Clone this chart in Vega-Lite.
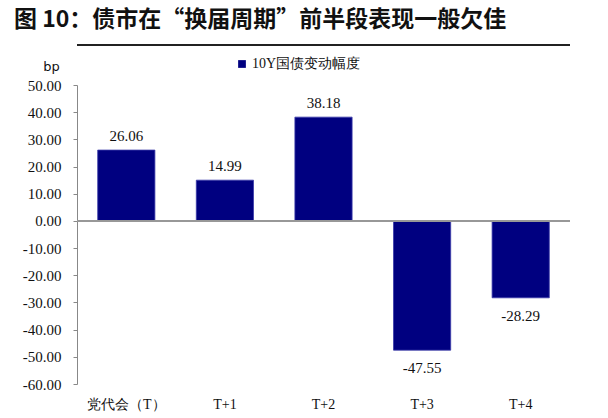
{
  "$schema": "https://vega.github.io/schema/vega-lite/v6.json",
  "autosize": {"type": "none"},
  "padding": {"left": 77, "top": 85, "right": 38, "bottom": 34},
  "width": 493,
  "height": 299,
  "background": "white",
  "title": {
    "text": "图 10：债市在“换届周期”前半段表现一般欠佳",
    "anchor": "start",
    "frame": "group",
    "dx": -63,
    "offset": 12,
    "font": "Noto Sans CJK SC",
    "fontSize": 23,
    "fontWeight": "bold",
    "color": "#111111"
  },
  "data": {
    "values": [
      {"period": "党代会（T）", "value": 26.06, "series": "10Y国债变动幅度"},
      {"period": "T+1", "value": 14.99, "series": "10Y国债变动幅度"},
      {"period": "T+2", "value": 38.18, "series": "10Y国债变动幅度"},
      {"period": "T+3", "value": -47.55, "series": "10Y国债变动幅度"},
      {"period": "T+4", "value": -28.29, "series": "10Y国债变动幅度"}
    ]
  },
  "config": {
    "view": {"stroke": null},
    "axis": {"labelFont": "Liberation Serif", "labelColor": "#111111"},
    "axisY": {
      "titleAngle": 0,
      "titleX": -26,
      "titleY": -12,
      "titleFont": "DejaVu Sans",
      "titleFontSize": 13,
      "titleFontWeight": "normal",
      "titleColor": "#111111",
      "tickCount": 11,
      "labelExpr": "replace(format(datum.value, '.2f'), '−', '-')",
      "labelOverlap": false,
      "grid": false,
      "domainColor": "#888888",
      "tickColor": "#888888",
      "tickSize": 4,
      "labelFont": "Liberation Serif",
      "labelFontSize": 15,
      "labelPadding": 12
    }
  },
  "encoding": {
    "x": {
      "field": "period",
      "type": "nominal",
      "sort": null,
      "scale": {"paddingInner": 0.42, "paddingOuter": 0.21},
      "axis": {
        "title": null,
        "domain": false,
        "ticks": false,
        "labelAngle": 0,
        "labelFontSize": 14,
        "labelPadding": 13,
        "labelFont": "Liberation Serif"
      }
    }
  },
  "layer": [
    {
      "mark": {"type": "bar", "stroke": "#3a3aa8", "strokeWidth": 0.8},
      "encoding": {
        "y": {
          "field": "value",
          "type": "quantitative",
          "title": "bp",
          "scale": {"domain": [-60, 50], "nice": false, "zero": false}
        },
        "color": {
          "field": "series",
          "type": "nominal",
          "scale": {"range": ["#000080"]},
          "legend": {
            "title": null,
            "orient": "none",
            "legendX": 158,
            "legendY": -28,
            "symbolType": "square",
            "symbolSize": 60,
            "symbolStrokeWidth": 0,
            "labelFont": "Liberation Serif",
            "labelFontSize": 14,
            "labelColor": "#111111",
            "labelOffset": 3
          }
        }
      }
    },
    {
      "mark": {"type": "rule", "color": "#999999", "strokeWidth": 1.5},
      "encoding": {"y": {"datum": 0, "title": "bp"}, "x": null}
    },
    {
      "mark": {"type": "rule", "color": "#222222", "strokeWidth": 1.5},
      "encoding": {"y": {"datum": 64.7, "title": "bp"}, "x": null}
    },
    {
      "transform": [{"filter": "datum.value >= 0"}],
      "mark": {"type": "text", "baseline": "bottom", "dy": -6, "font": "Liberation Serif", "fontSize": 15, "color": "#111111",
               "text": {"expr": "replace(format(datum.value, '.2f'), '−', '-')"}},
      "encoding": {
        "y": {"field": "value", "type": "quantitative", "title": "bp"}
      }
    },
    {
      "transform": [{"filter": "datum.value < 0"}],
      "mark": {"type": "text", "baseline": "top", "dy": 11, "font": "Liberation Serif", "fontSize": 15, "color": "#111111",
               "text": {"expr": "replace(format(datum.value, '.2f'), '−', '-')"}},
      "encoding": {
        "y": {"field": "value", "type": "quantitative", "title": "bp"}
      }
    }
  ]
}
